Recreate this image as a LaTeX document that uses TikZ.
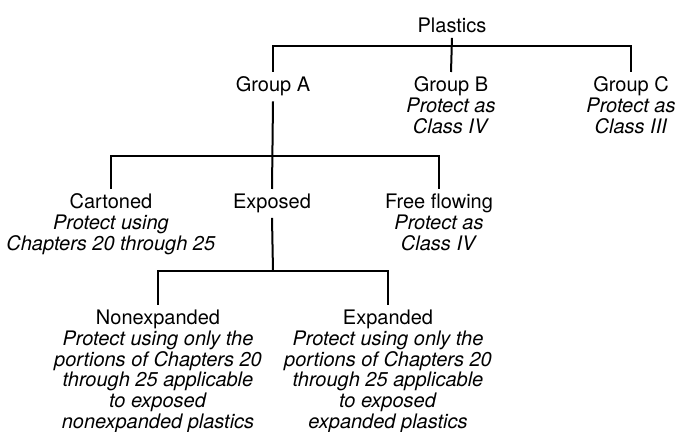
\documentclass[tikz,border=0pt]{standalone}
\usepackage{fontspec}
\setmainfont{TeX Gyre Heros}
\begin{document}
\begin{tikzpicture}[x=0.5pt,y=-0.5pt,line width=1pt,
    cls/.style={align=center,anchor=north,inner sep=0pt,outer sep=2.5pt,
        font=\fontsize{10}{10.4}\selectfont}]
        \useasboundingbox (0,0) rectangle (675,432);
        %livello 0
        \node[cls] (plastics) at (452,13) {Plastics};
        %livello 1: gruppi
        \node[cls] (groupA) at (273,72) {Group A};
        \node[cls] (groupB) at (451,72) {Group B\\\textit{Protect as}\\\textit{Class IV}};
        \node[cls] (groupC) at (631,72) {Group C\\\textit{Protect as}\\\textit{Class III}};
        %livello 2: gruppo A
        \node[cls] (cartoned) at (111,189) {Cartoned\\\textit{Protect using}\\\textit{Chapters 20 through 25}};
        \node[cls] (exposed) at (272,189) {Exposed};
        \node[cls] (freeflow) at (439,189) {Free flowing\\\textit{Protect as}\\\textit{Class IV}};
        %livello 3: esposti
        \node[cls] (nonexp) at (158,305) {Nonexpanded\\\textit{Protect using only the}\\\textit{portions of Chapters 20}\\\textit{through 25 applicable}\\\textit{to exposed}\\\textit{nonexpanded plastics}};
        \node[cls] (expanded) at (388,305) {Expanded\\\textit{Protect using only the}\\\textit{portions of Chapters 20}\\\textit{through 25 applicable}\\\textit{to exposed}\\\textit{expanded plastics}};
        %barre orizzontali
        \coordinate (busP) at (452,46);
        \coordinate (busA) at (273,156);
        \coordinate (busE) at (273,271);
        %collegamenti
        \draw (plastics.south) -- (groupB.north);
        \draw (groupA.north) |- (busP) -| (groupC.north);
        \draw (groupA.south) -- (exposed.north);
        \draw (cartoned.north) |- (busA) -| (freeflow.north);
        \draw (exposed.south) -- (busE);
        \draw (nonexp.north) |- (busE) -| (expanded.north);
    \end{tikzpicture}
\end{document}
